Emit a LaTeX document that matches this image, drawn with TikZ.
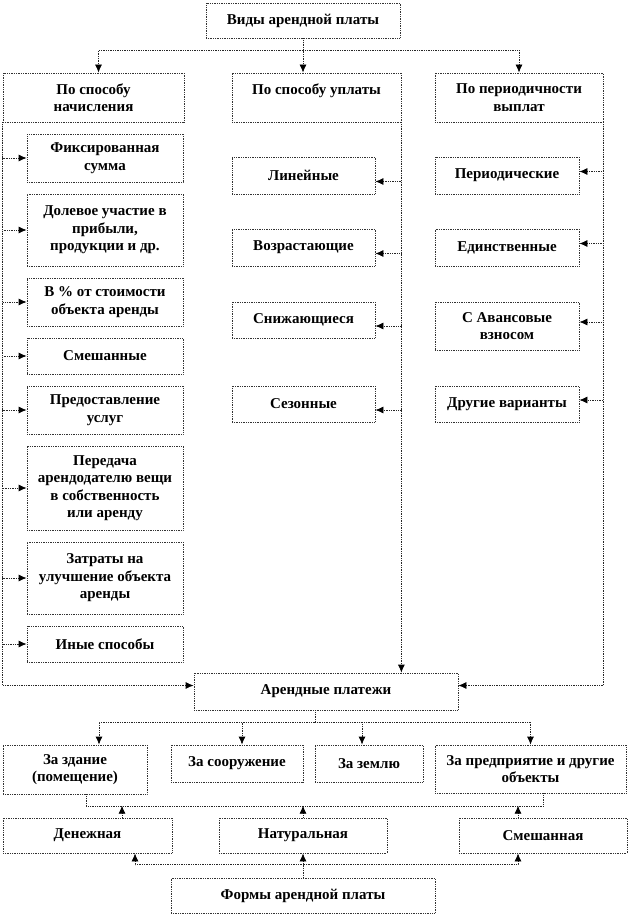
\documentclass[tikz,border=0pt]{standalone}
\usepackage{fontspec}
\setmainfont{Liberation Serif}
\usetikzlibrary{arrows.meta}

\tikzset{
  box/.style={draw=black!80, densely dotted, line width=0.75pt, fill=white, inner sep=0pt,
    align=center, font=\fontsize{15}{17.5}\selectfont\bfseries},
  conn/.style={black!85, densely dotted, line width=0.75pt},
  arr/.style={conn, -{Latex[length=8pt,width=7pt,black]}}
}

\begin{document}
\begin{tikzpicture}[x=1pt, y=-1pt]
\useasboundingbox (0,0) rectangle (630,917);

% Top
\node[box, minimum width=194, minimum height=35] (vid) at (303,20.5) {Виды арендной платы};
\node[box, minimum width=181, minimum height=49] (nach) at (93.5,97.5) {По способу\\начисления};
\node[box, minimum width=169, minimum height=49] (upl) at (316.5,97.5) {По способу уплаты\\\mbox{}};
\node[box, minimum width=168, minimum height=49] (per) at (519,97.5) {По периодичности\\выплат};

\draw[arr] (vid.south) -- ++(0,12) -| ([xshift=5]nach.north);
\draw[arr] (vid.south) -- (vid.south |- upl.north);
\draw[arr] (vid.south) -- ++(0,12) -| (per.north);

% Left column
\node[box, minimum width=156, minimum height=48] (fiks) at (105,158) {Фиксированная\\сумма};
\node[box, minimum width=156, minimum height=72] (dol) at (105,230) {Долевое участие в\\прибыли,\\продукции и др.};
\node[box, minimum width=156, minimum height=48] (proc) at (105,302) {В \% от стоимости\\объекта аренды};
\node[box, minimum width=156, minimum height=36] (smesh) at (105,356) {Смешанные};
\node[box, minimum width=156, minimum height=48] (usl) at (105,410) {Предоставление\\услуг};
\node[box, minimum width=156, minimum height=84] (pered) at (105,488) {Передача\\арендодателю вещи\\в собственность\\или аренду};
\node[box, minimum width=156, minimum height=72] (zatr) at (105,578) {Затраты на\\улучшение  объекта\\аренды};
\node[box, minimum width=156, minimum height=36] (inye) at (105,644) {Иные способы};

\foreach \n in {fiks,dol,proc,smesh,usl,pered,zatr,inye}
  \draw[arr] (nach.south west) |- (\n.west);

% Middle column
\node[box, minimum width=143, minimum height=37] (lin) at (303.5,175.5) {Линейные};
\node[box, minimum width=143, minimum height=37] (vozr) at (303.5,247.5) {Возрастающие};
\node[box, minimum width=143, minimum height=36] (snizh) at (303.5,320) {Снижающиеся};
\node[box, minimum width=143, minimum height=36] (sez) at (303.5,404) {Сезонные};

\foreach \n in {lin,vozr,snizh,sez}
  \draw[arr] (upl.south east) |- ([yshift=-6]\n.east);

% Right column
\node[box, minimum width=144, minimum height=37] (period) at (507,175.5) {Периодические};
\node[box, minimum width=144, minimum height=37] (edin) at (507,247.5) {Единственные};
\node[box, minimum width=144, minimum height=48] (avans) at (507,326) {С Авансовые\\взносом};
\node[box, minimum width=144, minimum height=36] (drug) at (507,404) {Другие варианты};

\foreach \n in {period,edin,avans,drug}
  \draw[arr] (per.south east) |- ([yshift=4]\n.east);

% Arendnye platezhi
\node[box, minimum width=264, minimum height=37] (arend) at (326,691.5) {Арендные платежи};

\draw[arr] (nach.south west) |- ([yshift=6]arend.west);
\draw[arr] (upl.south east) -- (upl.south east |- arend.north);
\draw[arr] (per.south east) |- ([yshift=6]arend.east);

% Objects
\node[box, minimum width=144, minimum height=49] (zd) at (75,769.5) {За здание\\(помещение)};
\node[box, minimum width=132, minimum height=37] (soor) at (237,763.5) {За сооружение};
\node[box, minimum width=108, minimum height=37] (zem) at (369,763.5) {За землю};
\node[box, minimum width=191, minimum height=48] (pred) at (530.5,769) {За предприятие и другие\\объекты};

\coordinate (hub) at (315,722);
\draw[conn] (arend.south -| hub) -- (hub);
\draw[arr] (hub) -| ([xshift=24]zd.north);
\draw[arr] (hub) -| ([xshift=5]soor.north);
\draw[arr] (hub) -| ([xshift=-7]zem.north);
\draw[arr] (hub) -| (pred.north);
\draw[conn] ([xshift=11]zd.south) -- ++(0,12) -| ([xshift=12.5]pred.south);

% Forms
\node[box, minimum width=169, minimum height=35] (den) at (87.5,835.5) {Денежная};
\node[box, minimum width=168, minimum height=35] (nat) at (303,835.5) {Натуральная};
\node[box, minimum width=168, minimum height=35] (sm) at (543,835.5) {Смешанная};
\node[box, minimum width=264, minimum height=35] (form) at (303,895.5) {Формы арендной платы};

\draw[arr] ([xshift=34.5]den.north) -- ++(0,-12);
\draw[arr] (nat.north) -- ++(0,-12);
\draw[arr] ([xshift=-25]sm.north) -- ++(0,-12);

\draw[arr] (form.north) -- (nat.south);
\draw[arr] (form.north) -- ++(0,-13) -| ([xshift=47.5]den.south);
\draw[arr] (form.north) -- ++(0,-13) -| ([xshift=-25]sm.south);
\end{tikzpicture}
\end{document}
